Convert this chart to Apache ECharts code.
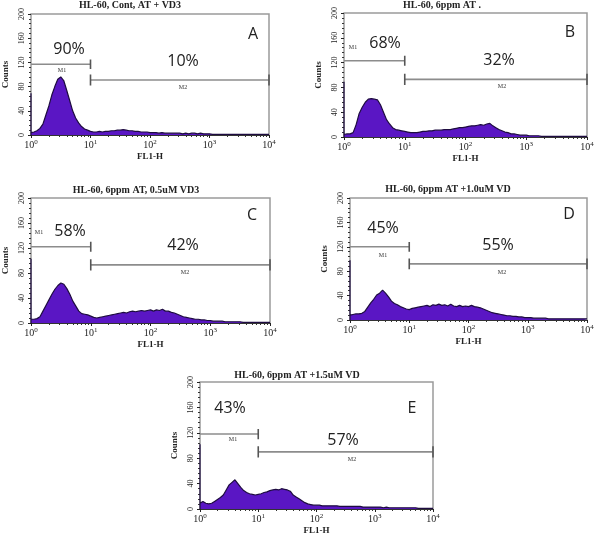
<!DOCTYPE html>
<html><head><meta charset="utf-8">
<script src="https://cdn.jsdelivr.net/npm/echarts@6/dist/echarts.min.js"></script>
<style>html,body{margin:0;padding:0;background:#fff}#c{width:600px;height:541px}</style>
</head><body><div id="c"></div>
<script>
// ---- data (log10 FL1-H bin positions and counts) ----
const LOG_BINS = [0,0.05,0.1,0.15,0.2,0.25,0.3,0.35,0.4,0.45,0.5,0.55,0.6,0.65,0.7,0.75,0.8,0.85,0.9,0.95,
1,1.05,1.1,1.15,1.2,1.25,1.3,1.35,1.4,1.45,1.5,1.55,1.6,1.65,1.7,1.75,1.8,1.85,1.9,1.95,
2,2.05,2.1,2.15,2.2,2.25,2.3,2.35,2.4,2.45,2.5,2.55,2.6,2.65,2.7,2.75,2.8,2.85,2.9,2.95,
3,3.05,3.1,3.15,3.2,3.25,3.3,3.35,3.4,3.45,3.5,3.55,3.6,3.65,3.7,3.75,3.8,3.85,3.9,3.95,4];

const COUNTS_A = [4,5,7,11,18,33,48,66,80,92,96,90,74,57,40,28,20,14,10,8,
6,5,5,6,5,6,6,7,7,8,8,9,8,7,7,6,6,5,5,5,
4,4,4,3,4,3,3,3,3,3,3,2,3,2,3,3,2,3,2,2,
2,1,1,1,1,1,1,1,1,1,1,1,1,1,1,1,1,1,1,1,1];
const COUNTS_B = [4,5,5,7,20,38,48,56,61,62,61,60,52,40,28,21,15,12,11,10,
9,8,7,7,7,8,9,9,10,10,11,11,11,12,12,12,13,14,15,15,
16,17,18,18,19,20,19,21,22,18,15,12,10,8,7,5,5,4,3,3,
3,2,2,2,2,1,1,1,1,1,1,1,1,1,1,1,1,1,1,1,1];
const COUNTS_C = [6,6,7,10,19,28,37,46,54,60,64,62,55,46,35,27,19,15,14,13,
11,9,8,9,10,11,12,13,14,15,16,17,16,18,19,18,19,20,19,20,
21,19,21,20,22,19,19,17,16,14,12,10,9,8,7,6,6,5,5,4,
4,3,3,3,3,2,2,2,2,2,2,1,1,1,1,1,1,1,1,1,1];
const COUNTS_D = [8,9,10,10,11,14,21,28,34,41,44,49,44,38,31,27,25,22,20,18,
17,19,20,21,22,23,24,22,25,24,26,24,25,23,26,23,22,24,22,23,
22,24,22,21,20,18,16,14,12,11,10,9,8,7,7,6,6,5,5,4,
4,4,3,3,3,3,3,2,2,2,2,2,2,2,2,2,2,2,2,2,2];
const COUNTS_E = [9,12,9,8,9,12,15,18,22,30,38,42,46,40,34,29,26,24,23,22,
23,24,26,27,29,30,31,30,32,31,30,28,22,19,16,13,10,8,7,6,
6,6,5,5,5,5,5,5,4,4,4,4,4,4,4,4,3,3,3,3,
3,3,3,2,3,2,2,2,2,2,2,2,2,2,2,1,1,1,1,1,1];
const EDGE_SPIKE = [69, 89, 103, 98, 102];      // first-channel pile-up
const GATE_M1 = [117, 123, 122, 120, 118];      // marker heights (counts)
const GATE_M2 = [91, 93, 93, 92, 90];
const M1_RANGE = [1, 10];
const M2_RANGE = [10, 10000];
const PCT_M1 = ['90%', '68%', '58%', '45%', '43%'];
const PCT_M2 = ['10%', '32%', '42%', '55%', '57%'];
const LETTERS = ['A', 'B', 'C', 'D', 'E'];
const TITLES = ['HL-60, Cont, AT + VD3', 'HL-60, 6ppm AT .', 'HL-60, 6ppm AT, 0.5uM VD3',
  'HL-60, 6ppm AT +1.0uM VD', 'HL-60, 6ppm AT +1.5uM VD'];
const Y_TICKS = [0, 40, 80, 120, 160, 200];
const X_TICKS = [1, 10, 100, 1000, 10000];

// ---- layout (pixels) ----
const GRIDS = [
  {left: 31, top: 14, width: 238, height: 121},
  {left: 344, top: 13, width: 243, height: 124},
  {left: 31, top: 198, width: 239, height: 125},
  {left: 350, top: 198, width: 237, height: 122},
  {left: 200, top: 382, width: 233, height: 127}
];
const TITLE_POS = [[130, 5], [442, 5], [136, 190], [448, 189], [297, 375]];
const P1_POS = [[69, 49], [385, 43], [70, 231], [383, 228], [230, 408]];
const P2_POS = [[183, 61], [499, 60], [183, 245], [498, 245], [343, 440]];
const L_POS = [[253, 34], [570, 32], [252, 215], [569, 214], [412, 408]];
const M1_POS = [[62, 70], [353, 47], [39, 232], [383, 255], [233, 439]];
const M2_POS = [[183, 87], [502, 86], [185, 272], [502, 272], [352, 459]];

const ALL_COUNTS = [COUNTS_A, COUNTS_B, COUNTS_C, COUNTS_D, COUNTS_E];
const SERIF = 'Liberation Serif';
const SANS = 'Open Sans';

const option = {animation: false, grid: [], xAxis: [], yAxis: [], series: [], graphic: []};

ALL_COUNTS.forEach((counts, i) => {
  option.grid.push(Object.assign({show: true, borderColor: '#9a9a9a', borderWidth: 1.5, backgroundColor: '#fff'}, GRIDS[i]));
  option.xAxis.push({
    gridIndex: i, type: 'log', logBase: 10, min: X_TICKS[0], max: X_TICKS[X_TICKS.length - 1],
    name: 'FL1-H', nameLocation: 'middle', nameGap: 17,
    nameTextStyle: {fontFamily: SERIF, fontSize: 9, fontWeight: 'bold', color: '#222'},
    axisLine: {lineStyle: {color: '#333', width: 1}},
    axisTick: {show: true, length: 3, lineStyle: {color: '#222'}},
    minorTick: {show: true, splitNumber: 9, length: 2, lineStyle: {color: '#333'}},
    splitLine: {show: false},
    axisLabel: {
      margin: 4,
      formatter: v => '{b|10}{s|' + Math.round(Math.log10(v)) + '}',
      rich: {
        b: {fontFamily: SERIF, fontSize: 10, color: '#222'},
        s: {fontFamily: SERIF, fontSize: 7, color: '#222', verticalAlign: 'top', padding: [0, 0, 6, 0]}
      }
    }
  });
  option.yAxis.push({
    gridIndex: i, type: 'value', min: Y_TICKS[0], max: Y_TICKS[Y_TICKS.length - 1], interval: 40,
    name: 'Counts', nameLocation: 'middle', nameGap: 21, nameRotate: 90,
    nameTextStyle: {fontFamily: SERIF, fontSize: 9, fontWeight: 'bold', color: '#222'},
    axisLine: {show: false},
    axisTick: {show: true, length: 3, lineStyle: {color: '#222'}},
    minorTick: {show: true, splitNumber: 5, length: 2, lineStyle: {color: '#333'}},
    splitLine: {show: false},
    axisLabel: {rotate: 90, margin: 5, fontFamily: SERIF, fontSize: 8, color: '#222'}
  });
  const data = [[1, 0], [1, EDGE_SPIKE[i]]].concat(LOG_BINS.map((b, k) => [Math.pow(10, b), counts[k]]));
  option.series.push({
    type: 'line', xAxisIndex: i, yAxisIndex: i, data: data, symbol: 'none', silent: true,
    lineStyle: {color: '#1e0c40', width: 1.2},
    areaStyle: {color: '#5a16c4', opacity: 1}, z: 2
  });
  // gate markers
  const segs = [
    [[M1_RANGE[0], GATE_M1[i]], [M1_RANGE[1], GATE_M1[i]]],
    [[M1_RANGE[1], GATE_M1[i] - 8], [M1_RANGE[1], GATE_M1[i] + 8]],
    [[M2_RANGE[0], GATE_M2[i]], [M2_RANGE[1], GATE_M2[i]]],
    [[M2_RANGE[0], GATE_M2[i] - 9], [M2_RANGE[0], GATE_M2[i] + 9]],
    [[M2_RANGE[1], GATE_M2[i] - 9], [M2_RANGE[1], GATE_M2[i] + 9]]
  ];
  segs.forEach((s, k) => option.series.push({
    type: 'line', xAxisIndex: i, yAxisIndex: i, data: s, symbol: 'none', silent: true,
    lineStyle: {color: k === 1 || k >= 3 ? '#555' : '#8c8c8c', width: 1.6}, z: 3
  }));
  const txt = (pos, text, font, fill) => ({
    type: 'text', x: pos[0], y: pos[1], silent: true, z: 10,
    style: {text: text, font: font, fill: fill || '#222', textAlign: 'center', textVerticalAlign: 'middle'}
  });
  option.graphic.push(txt(TITLE_POS[i], TITLES[i], 'bold 10px "' + SERIF + '"'));
  option.graphic.push(txt(P1_POS[i], PCT_M1[i], '16px "' + SANS + '"'));
  option.graphic.push(txt(P2_POS[i], PCT_M2[i], '16px "' + SANS + '"'));
  option.graphic.push(txt(L_POS[i], LETTERS[i], '16px "' + SANS + '"'));
  option.graphic.push(txt(M1_POS[i], 'M1', '6px "' + SERIF + '"', '#333'));
  option.graphic.push(txt(M2_POS[i], 'M2', '6px "' + SERIF + '"', '#333'));
});

const chart = echarts.init(document.getElementById('c'), null, {renderer: 'canvas'});
chart.setOption(option);
</script>
</body></html>
